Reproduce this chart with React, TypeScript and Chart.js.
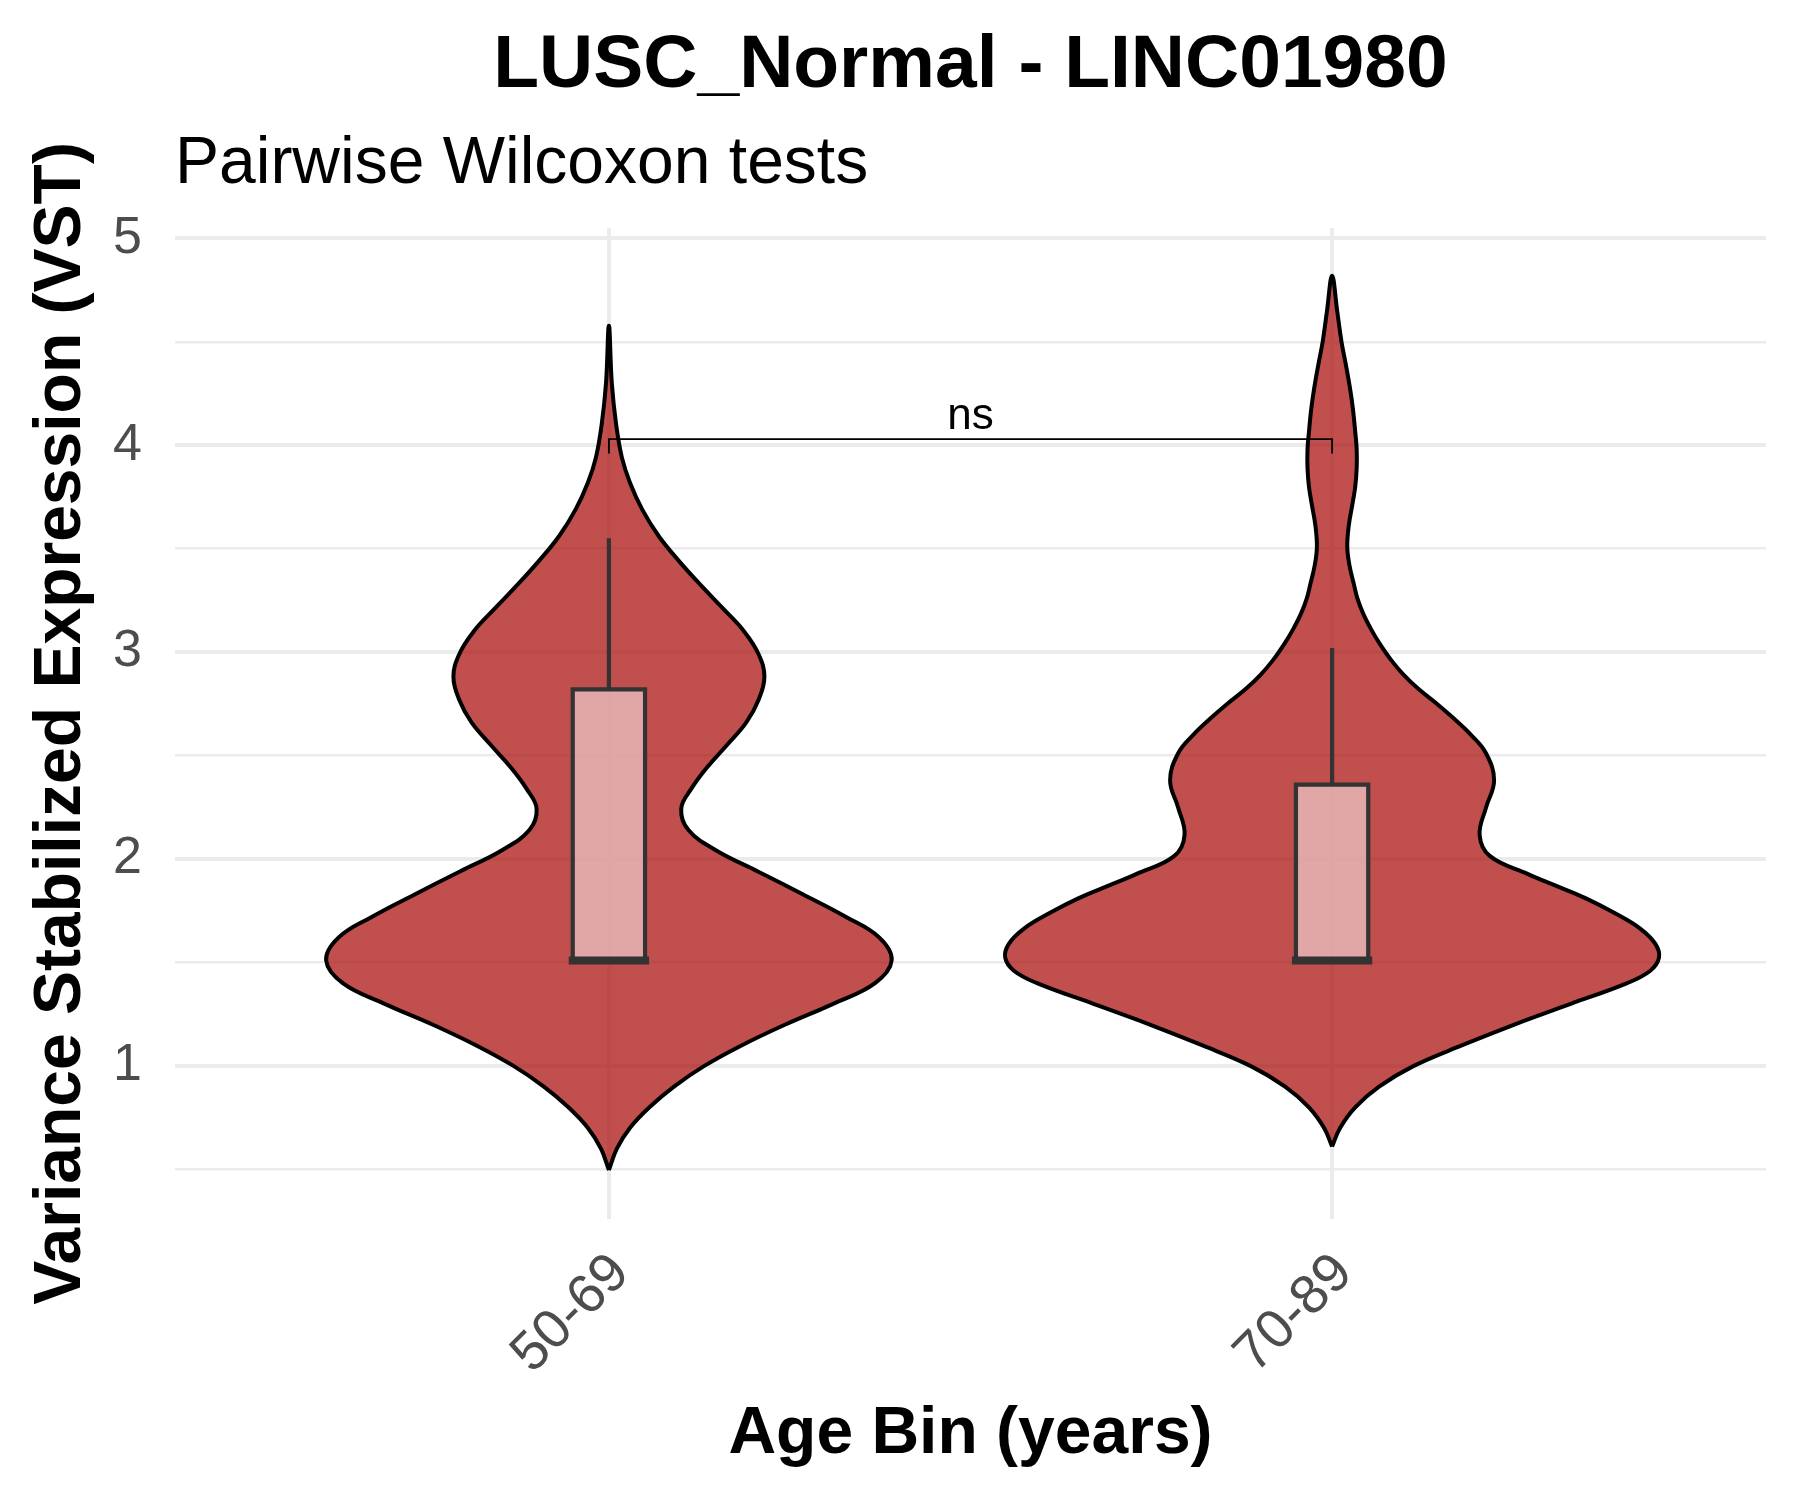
import React, { useEffect, useRef } from 'react';
import { Chart, registerables } from 'chart.js';

Chart.register(...registerables);

// ---- Data ----
const categories = ['50-69', '70-89'];
const categoryPositions = [1, 2];

// Violin outline: y values (bottom to top) and half-widths (x units)
const violinY_50_69 = [0.497, 0.6, 0.7, 0.8, 0.9, 1.0, 1.1, 1.2, 1.3, 1.4, 1.51, 1.62, 1.72, 1.83, 1.94, 2.04, 2.14, 2.244, 2.34, 2.44, 2.55, 2.66, 2.77, 2.88, 2.99, 3.1, 3.21, 3.32, 3.44, 3.56, 3.69, 3.82, 3.94, 4.1, 4.3, 4.578];
const violinW_50_69 = [0, 0.011, 0.029, 0.056, 0.09, 0.132, 0.184, 0.244, 0.31, 0.368, 0.391, 0.374, 0.328, 0.268, 0.206, 0.149, 0.11, 0.1, 0.114, 0.135, 0.163, 0.19, 0.207, 0.215, 0.207, 0.187, 0.158, 0.128, 0.097, 0.069, 0.046, 0.029, 0.018, 0.01, 0.004, 0];

const violinY_70_89 = [0.61, 0.7, 0.8, 0.9, 1.0, 1.1, 1.2, 1.3, 1.4, 1.46, 1.523, 1.59, 1.664, 1.74, 1.81, 1.87, 1.927, 2.015, 2.117, 2.25, 2.38, 2.51, 2.6, 2.68, 2.747, 2.82, 2.89, 2.96, 3.04, 3.11, 3.186, 3.26, 3.33, 3.42, 3.508, 3.61, 3.713, 3.8, 3.89, 3.98, 4.064, 4.17, 4.27, 4.39, 4.5, 4.65, 4.819];
const violinW_70_89 = [0, 0.011, 0.032, 0.065, 0.113, 0.18, 0.252, 0.33, 0.408, 0.44, 0.452, 0.447, 0.426, 0.39, 0.351, 0.31, 0.271, 0.218, 0.204, 0.213, 0.224, 0.213, 0.192, 0.168, 0.146, 0.12, 0.099, 0.082, 0.066, 0.054, 0.043, 0.035, 0.03, 0.024, 0.021, 0.023, 0.028, 0.032, 0.034, 0.034, 0.032, 0.029, 0.025, 0.019, 0.013, 0.007, 0];

// Boxplot statistics
const boxLower = [1.51, 1.51];
const boxMedian = [1.51, 1.51];
const boxUpper = [2.82, 2.36];
const whiskerLower = [1.51, 1.51];
const whiskerUpper = [3.55, 3.02];
const boxHalfWidth = 0.05;

// Y ticks (major labelled, minor unlabelled)
const yTickValues = [0.5, 1, 1.5, 2, 2.5, 3, 3.5, 4, 4.5, 5];

// Significance bracket
const comparisonFrom = 1;
const comparisonTo = 2;
const comparisonY = 4.03;
const comparisonTipY = 3.96;
const comparisonLabel = 'ns';

const titleText = 'LUSC_Normal - LINC01980';
const subtitleText = 'Pairwise Wilcoxon tests';
const xTitleText = 'Age Bin (years)';
const yTitleText = 'Variance Stabilized Expression (VST)';

const FONT = "'Liberation Sans', Arial, Helvetica, sans-serif";

function violinPoints(pos: number, ys: number[], ws: number[]) {
  const right = ys.map((y, i) => ({ x: pos + ws[i], y }));
  const left: { x: number; y: number }[] = [];
  for (let i = ys.length - 2; i >= 0; i--) left.push({ x: pos - ws[i], y: ys[i] });
  return [...right, ...left];
}

const textPlugin = {
  id: 'textPlugin',
  afterDraw(chart: any) {
    const { ctx, chartArea, scales } = chart;
    const cx = (chartArea.left + chartArea.right) / 2;
    ctx.save();
    ctx.fillStyle = '#000000';
    // Title
    ctx.font = `bold 75px ${FONT}`;
    ctx.textAlign = 'center';
    ctx.textBaseline = 'alphabetic';
    ctx.fillText(titleText, cx, 87);
    // Subtitle
    ctx.font = `66px ${FONT}`;
    ctx.textAlign = 'left';
    ctx.fillText(subtitleText, chartArea.left, 183);
    // X title
    ctx.font = `bold 66px ${FONT}`;
    ctx.textAlign = 'center';
    ctx.fillText(xTitleText, cx, 1453);
    // Y title
    ctx.save();
    ctx.translate(80, (chartArea.top + chartArea.bottom) / 2);
    ctx.rotate(-Math.PI / 2);
    ctx.fillText(yTitleText, 0, 0);
    ctx.restore();
    // ns label
    ctx.font = `44px ${FONT}`;
    ctx.textAlign = 'center';
    const lx = scales.x.getPixelForValue((comparisonFrom + comparisonTo) / 2);
    const ly = scales.y.getPixelForValue(comparisonY) - 10;
    ctx.fillText(comparisonLabel, lx, ly);
    ctx.restore();
  },
};

export default function App() {
  const ref = useRef<HTMLCanvasElement | null>(null);

  useEffect(() => {
    if (!ref.current) return;
    const violins = [
      { ys: violinY_50_69, ws: violinW_50_69 },
      { ys: violinY_70_89, ws: violinW_70_89 },
    ];
    const datasets: any[] = [];
    categoryPositions.forEach((pos, i) => {
      datasets.push({
        label: `violin ${categories[i]}`,
        data: violinPoints(pos, violins[i].ys, violins[i].ws),
        fill: 'shape',
        backgroundColor: 'rgba(172,20,18,0.75)',
        borderColor: '#000000',
        borderWidth: 4,
        tension: 0.4,
        borderJoinStyle: 'round',
        pointRadius: 0,
        order: 10,
      });
      datasets.push({
        label: `whisker ${categories[i]}`,
        data: [
          { x: pos, y: whiskerLower[i] },
          { x: pos, y: boxLower[i] },
          { x: NaN, y: NaN },
          { x: pos, y: boxUpper[i] },
          { x: pos, y: whiskerUpper[i] },
        ],
        borderColor: '#333333',
        borderWidth: 4.2,
        pointRadius: 0,
        fill: false,
        spanGaps: false,
        order: 9,
      });
      datasets.push({
        label: `box ${categories[i]}`,
        data: [
          { x: pos - boxHalfWidth, y: boxLower[i] },
          { x: pos + boxHalfWidth, y: boxLower[i] },
          { x: pos + boxHalfWidth, y: boxUpper[i] },
          { x: pos - boxHalfWidth, y: boxUpper[i] },
          { x: pos - boxHalfWidth, y: boxLower[i] },
        ],
        fill: 'shape',
        backgroundColor: 'rgba(255,255,255,0.5)',
        borderColor: '#333333',
        borderWidth: 4.2,
        tension: 0,
        pointRadius: 0,
        order: 8,
      });
      datasets.push({
        label: `median ${categories[i]}`,
        data: [
          { x: pos - boxHalfWidth, y: boxMedian[i] },
          { x: pos + boxHalfWidth, y: boxMedian[i] },
        ],
        borderColor: '#333333',
        borderWidth: 8,
        borderCapStyle: 'square',
        pointRadius: 0,
        fill: false,
        order: 7,
      });
    });
    datasets.push({
      label: 'bracket',
      data: [
        { x: comparisonFrom, y: comparisonTipY },
        { x: comparisonFrom, y: comparisonY },
        { x: comparisonTo, y: comparisonY },
        { x: comparisonTo, y: comparisonTipY },
      ],
      borderColor: '#000000',
      borderWidth: 1.8,
      pointRadius: 0,
      fill: false,
      order: 1,
    });

    const chart = new Chart(ref.current, {
      type: 'line',
      data: { datasets },
      options: {
        responsive: false,
        animation: false,
        devicePixelRatio: 1,
        layout: { padding: { left: 0, top: 228, right: 34, bottom: 0 } },
        plugins: {
          legend: { display: false },
          tooltip: { enabled: false },
          title: { display: false },
        },
        scales: {
          x: {
            type: 'linear',
            min: 0.4,
            max: 2.6,
            afterBuildTicks: (scale: any) => {
              scale.ticks = categoryPositions.map((v) => ({ value: v }));
            },
            afterFit: (scale: any) => {
              scale.height = 281;
            },
            ticks: {
              autoSkip: false,
              minRotation: 45,
              maxRotation: 45,
              padding: 22,
              labelOffset: 12,
              color: '#4D4D4D',
              font: { family: FONT, size: 55 },
              callback: (v: any) => {
                const idx = categoryPositions.indexOf(Number(v));
                return idx >= 0 ? categories[idx] : '';
              },
            },
            grid: { color: '#EBEBEB', lineWidth: 4, drawTicks: false },
            border: { display: false },
          },
          y: {
            type: 'linear',
            min: 0.26,
            max: 5.05,
            afterBuildTicks: (scale: any) => {
              scale.ticks = yTickValues.map((v) => ({ value: v }));
            },
            afterFit: (scale: any) => {
              scale.width = 175;
            },
            ticks: {
              autoSkip: false,
              padding: 33,
              color: '#4D4D4D',
              font: { family: FONT, size: 52 },
              callback: (v: any) => (Number(v) % 1 === 0 ? String(v) : ''),
            },
            grid: {
              color: '#EBEBEB',
              lineWidth: (c: any) => (c.tick && c.tick.value % 1 === 0 ? 4 : 2.4),
              drawTicks: false,
            },
            border: { display: false },
          },
        },
      },
      plugins: [textPlugin],
    });
    return () => chart.destroy();
  }, []);

  return (
    <div style={{ position: 'fixed', left: 0, top: 0, width: 1800, height: 1500, background: '#ffffff' }}>
      <canvas ref={ref} width={1800} height={1500} style={{ width: 1800, height: 1500, display: 'block' }} />
    </div>
  );
}
